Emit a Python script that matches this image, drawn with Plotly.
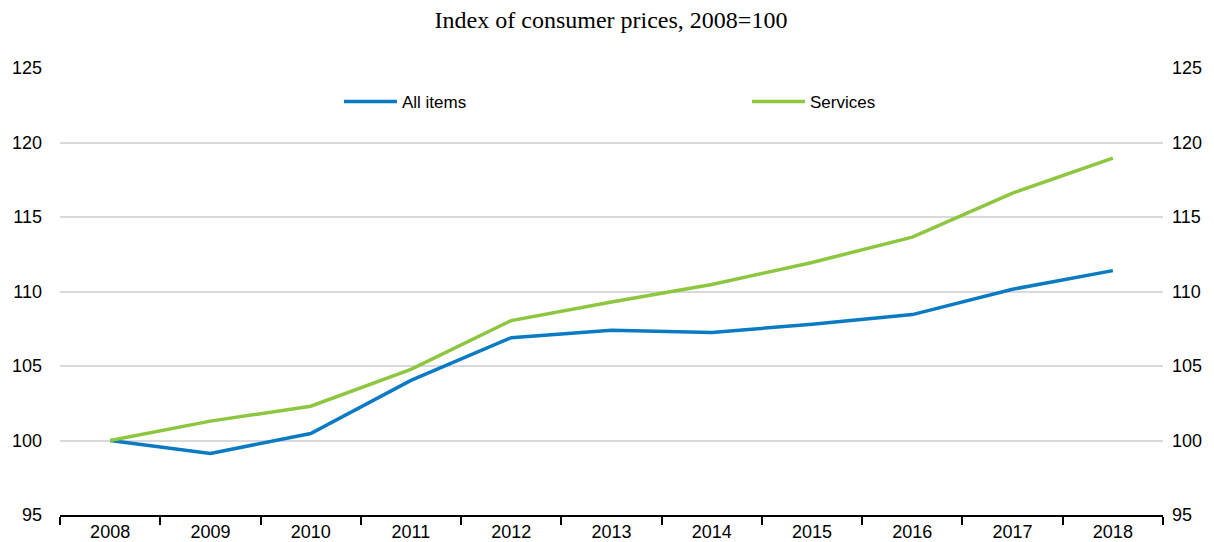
import plotly.graph_objects as go

years = ["2008", "2009", "2010", "2011", "2012", "2013", "2014", "2015", "2016", "2017", "2018"]
all_items = [100.0, 99.13, 100.47, 104.03, 106.9, 107.4, 107.25, 107.8, 108.45, 110.15, 111.4]
services = [100.0, 101.3, 102.3, 104.77, 108.05, 109.3, 110.47, 111.95, 113.65, 116.6, 118.95]
y_ticks = [95, 100, 105, 110, 115, 120, 125]

BLUE = "#0a7bc2"
GREEN = "#8dc63f"

fig = go.Figure()
fig.add_trace(go.Scatter(x=years, y=all_items, name="All items", mode="lines",
                         line=dict(color=BLUE, width=3.5)))
fig.add_trace(go.Scatter(x=years, y=services, name="Services", mode="lines",
                         line=dict(color=GREEN, width=3.5)))
# invisible trace for right axis
fig.add_trace(go.Scatter(x=years, y=all_items, yaxis="y2", mode="lines",
                         line=dict(width=0), showlegend=False, hoverinfo="skip", opacity=0))

tickfont = dict(family="Liberation Sans, Arial, sans-serif", size=18, color="#000000")
legfont = dict(family="Liberation Sans, Arial, sans-serif", size=17, color="#000000")

# page body has an 8px margin; figure is sized so the plot area lands at x 60-1163, y 68-515
fig.update_layout(
    width=1206, height=534,
    margin=dict(l=52, r=51, t=60, b=27, autoexpand=False),
    paper_bgcolor="white", plot_bgcolor="white",
    title=dict(text="Index of consumer prices, 2008=100", x=0.5, xanchor="center",
               y=0.9775, yanchor="middle", automargin=False,
               font=dict(family="Liberation Serif, Times New Roman, serif", size=24, color="#000000")),
    showlegend=True,
    legend=dict(orientation="h", x=0.2529, xanchor="left", y=0.924, yanchor="middle",
                font=legfont, entrywidth=340, bgcolor="rgba(0,0,0,0)", itemwidth=53),
    xaxis=dict(type="category", range=[-0.5, 10.5], showgrid=False, showline=True,
               linecolor="#000000", linewidth=1.5, ticks="outside", tickson="boundaries",
               ticklen=8, tickcolor="#000000", tickwidth=1.5, tickfont=tickfont, zeroline=False,
               automargin=False),
    yaxis=dict(range=[95, 125], tickvals=y_ticks, showgrid=True, gridcolor="#d9d9d9",
               gridwidth=1.5, zeroline=False, showline=False, ticks="", tickfont=tickfont,
               ticklabelstandoff=17, automargin=False),
    yaxis2=dict(range=[95, 125], tickvals=y_ticks, overlaying="y", side="right",
                showgrid=False, zeroline=False, showline=False, ticks="", tickfont=tickfont,
                ticklabelstandoff=8, automargin=False),
)

fig.write_html("out.html")
